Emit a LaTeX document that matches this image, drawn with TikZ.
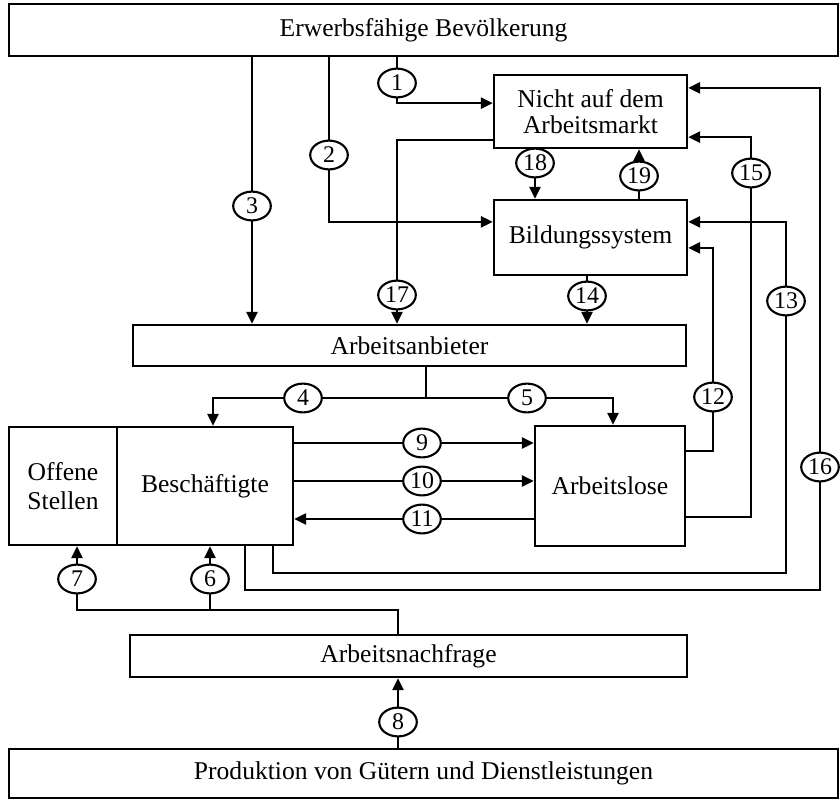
\documentclass[tikz,border=0pt]{standalone}
\usepackage{fontspec}
\setmainfont{Liberation Serif}
\usetikzlibrary{shapes,arrows.meta,positioning}
\tikzstyle{box}=[draw,rectangle,line width=1.7pt,inner sep=1pt,align=center,
  font=\fontsize{18.2}{18.5}\selectfont]
\tikzstyle{num}=[draw,ellipse,line width=1.5pt,inner sep=0pt,minimum
width=9.4mm,minimum height=7.2mm,font=\fontsize{17}{18}\selectfont]

\begin{document}
\begin{tikzpicture}[x=0.25mm, y=-0.25mm, >={Triangle[length=3mm,width=2.8mm]}]
  \tikzstyle{flow}=[line width=1.6pt]
  \useasboundingbox (0,0) rectangle (840,800);

  % boxes
  \node[box, minimum width=207.25mm, minimum height=13mm] (top) at (423.5,30) {Erwerbsf\"ahige Bev\"olkerung};
  \node[box, minimum width=48.25mm, minimum height=18.25mm] (nicht) at (590.5,111.5) {Nicht auf dem\\Arbeitsmarkt};
  \node[box, minimum width=48.25mm, minimum height=18.75mm] (bild) at (590.5,237.5) {Bildungssystem};
  \node[box, minimum width=138.25mm, minimum height=10.25mm] (anb) at (409.5,345.5) {Arbeitsanbieter};
  \node[box, minimum width=27mm, minimum height=29.5mm,
    font=\fontsize{18.2}{21}\selectfont] (offen) at (63,486) {Offene\\Stellen};
  \node[box, minimum width=44mm, minimum height=29.5mm] (besch) at (205,486) {Besch\"aftigte};
  \node[box, minimum width=37.5mm, minimum height=30mm] (alos) at (610,486) {Arbeitslose};
  \node[box, minimum width=139.25mm, minimum height=10.5mm] (nach) at (408.5,656) {Arbeitsnachfrage};
  \node[box, minimum width=207.25mm, minimum height=12.25mm] (prod) at (423.5,773.5) {Produktion von G\"utern und Dienstleistungen};

  % numbered flows
  \node[num] (1) at (397,83) {1};
  \node[num] (2) at (329,155) {2};
  \node[num] (3) at (252,206) {3};
  \node[num] (4) at (303,398) {4};
  \node[num] (5) at (527,398) {5};
  \node[num] (6) at (210,579) {6};
  \node[num] (7) at (77,579) {7};
  \node[num] (8) at (398,722) {8};
  \node[num] (9) at (422,443) {9};
  \node[num] (10) at (422,481) {10};
  \node[num] (11) at (422,519) {11};
  \node[num] (12) at (713,397) {12};
  \node[num] (13) at (786,301) {13};
  \node[num] (14) at (587,296) {14};
  \node[num] (15) at (751,173) {15};
  \node[num] (16) at (820,467) {16};
  \node[num] (17) at (397,295) {17};
  \node[num] (18) at (535,163) {18};
  \node[num] (19) at (639,176) {19};

  \coordinate (s) at (426,398);
  \coordinate (d) at (398,610);

  \draw[flow] (top.south -| 1) -- (1);
  \draw[flow,->] (1) |- ([yshift=2.1mm]nicht.west);
  \draw[flow] (top.south -| 2) -- (2);
  \draw[flow,->] (2) |- ([yshift=3.9mm]bild.west);
  \draw[flow] (top.south -| 3) -- (3);
  \draw[flow,->] (3) -- (3 |- anb.north);
  \draw[flow] ([yshift=-7.1mm]nicht.west) -| (17);
  \draw[flow,->] (17) -- (17 |- anb.north);
  \draw[flow] (nicht.south -| 18) -- (18);
  \draw[flow,->] (18) -- (18 |- bild.north);
  \draw[flow] (bild.north -| 19) -- (19);
  \draw[flow,->] (19) -- (19 |- nicht.south);
  \draw[flow] (bild.south -| 14) -- (14);
  \draw[flow,->] (14) -- (14 |- anb.north);

  \draw[flow] (anb.south -| s) -- (s) -- (4);
  \draw[flow,->] (4) -| ([xshift=2mm]besch.north);
  \draw[flow] (s) -- (5);
  \draw[flow,->] (5) -| ([xshift=0.75mm]alos.north);

  \draw[flow] (besch.east |- 9) -- (9);
  \draw[flow,->] (9) -- (9 -| alos.west);
  \draw[flow] (besch.east |- 10) -- (10);
  \draw[flow,->] (10) -- (10 -| alos.west);
  \draw[flow] (alos.west |- 11) -- (11);
  \draw[flow,->] (11) -- (11 -| besch.east);

  \draw[flow] ([yshift=8.75mm]alos.east) -| (12);
  \draw[flow,->] (12) |- ([yshift=-2.6mm]bild.east);
  \draw[flow] ([yshift=-7.75mm]alos.east) -| (15);
  \draw[flow,->] (15) |- ([yshift=-6.4mm]nicht.east);
  \draw[flow] ([xshift=17mm]besch.south) -- ++(0,27) -| (13);
  \draw[flow,->] (13) |- ([yshift=3.9mm]bild.east);
  \draw[flow] ([xshift=10mm]besch.south) -- ++(0,44) -| (16);
  \draw[flow,->] (16) |- ([yshift=5.9mm]nicht.east);

  \draw[flow] (nach.north -| d) -- (d) -| (7);
  \draw[flow] (d -| 6) -- (6);
  \draw[flow,->] (6) -- (6 |- besch.south);
  \draw[flow,->] (7) -- (7 |- offen.south);
  \draw[flow] (prod.north -| 8) -- (8);
  \draw[flow,->] (8) -- (8 |- nach.south);
\end{tikzpicture}
\end{document}
